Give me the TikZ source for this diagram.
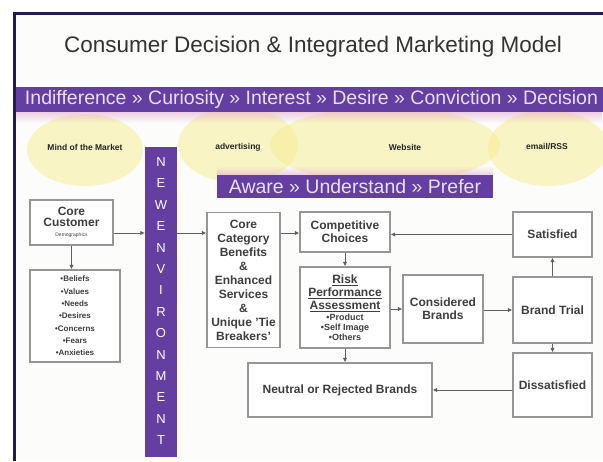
\documentclass[tikz,border=0pt]{standalone}
\usepackage{fontspec}
\setmainfont{Liberation Sans}
\usetikzlibrary{arrows.meta,fadings}

\definecolor{bandpurple}{RGB}{100,62,160}
\definecolor{bandtext}{RGB}{232,224,248}
\definecolor{bandpink}{RGB}{225,170,205}
\definecolor{framenavy}{RGB}{35,28,80}
\definecolor{boxgray}{RGB}{150,150,150}
\definecolor{txtgray}{RGB}{62,62,62}
\definecolor{linegray}{RGB}{95,95,95}
\definecolor{cloud}{RGB}{248,238,150}
\definecolor{paper}{RGB}{252,252,250}

\newcommand\riskitem[1]{{\fontsize{9}{10.5}\selectfont #1}}

\begin{document}
\begin{tikzpicture}[x=1pt,y=-1pt,
  stage/.style={draw=boxgray,line width=1.4pt,fill=white,text=txtgray,
    font=\bfseries\fontsize{12}{13}\selectfont,align=center,inner sep=1pt},
  link/.style={draw=linegray,line width=0.8pt,-{Latex[length=4.5pt,width=4.5pt]}},
  channel/.style={fill=cloud,fill opacity=0.55},
  chanlabel/.style={font=\bfseries\fontsize{8.5}{9}\selectfont,text=black!85},
  purpleband/.style={fill=bandpurple,text=bandtext,inner sep=0pt,
    font=\fontsize{19.5}{20}\selectfont},
  letter/.style={text=white,font=\fontsize{13}{13}\selectfont}]

\useasboundingbox (0,0) rectangle (603,461);
\fill[paper] (14,13.5) rectangle (603,461);

\coordinate (entry) at (0,233);

\node[font=\fontsize{22.5}{24}\selectfont,text=black!80] (title) at (313,47)
  {Consumer Decision \& Integrated Marketing Model};

% media channels
\fill[channel] (85,150) ellipse [x radius=58,y radius=36];
\fill[channel] (238,145) ellipse [x radius=60,y radius=38];
\fill[channel] (385,145) ellipse [x radius=115,y radius=38];
\fill[channel] (548,148) ellipse [x radius=60,y radius=38];
\node[chanlabel] (mind) at (85,147) {Mind of the Market};
\node[chanlabel] (adv) at (238,147) {advertising};
\node[chanlabel] (web) at (405,147) {Website};
\node[chanlabel] (mail) at (547,147) {email/RSS};

\fill[bandpink,path fading=south,opacity=0.6] (14,111) rectangle (603,123);
\fill[bandpink,path fading=north,opacity=0.6] (217,166) rectangle (493,176);

\node[purpleband,minimum width=595,minimum height=25] (stages) at (311.5,99.5)
  {Indifference » Curiosity » Interest » Desire » Conviction » Decision};
\node[purpleband,minimum width=276,minimum height=23] (aware) at (355,186.5)
  {Aware » Understand » Prefer};

\node[fill=bandpurple,minimum width=32,minimum height=310,inner sep=0pt] (newenv) at (161,301.5) {};
\foreach \l [count=\i from 0] in {N,E,W,E,N,V,I,R,O,N,M,E,N,T}
  \node[letter] (env\i) at (161,{162+\i*21.4}) {\l};

\node[stage,minimum width=83,minimum height=45] (core) at (71.5,222.5)
  {Core\\[-2pt]Customer\\[-3pt]{\mdseries\fontsize{5}{6}\selectfont Demographics}};
\node[stage,minimum width=90,minimum height=92,font=\bfseries\fontsize{8}{12.3}\selectfont] (traits) at (75,316)
  {•Beliefs\\•Values\\•Needs\\•Desires\\•Concerns\\•Fears\\•Anxieties};
\node[stage,minimum width=73,minimum height=135,font=\bfseries\fontsize{12}{14}\selectfont] (category) at (243.5,280)
  {Core\\Category\\Benefits\\\&\\Enhanced\\Services\\\&\\Unique 'Tie\\Breakers'};
\node[stage,minimum width=90,minimum height=40] (choices) at (345,232) {Competitive\\Choices};
\node[stage,minimum width=90,minimum height=81] (risk) at (345,307.5)
  {\underline{Risk}\\\underline{Performance}\\\underline{Assessment}\\[-2pt]\riskitem{•Product}\\[-3pt]\riskitem{•Self Image}\\[-3pt]\riskitem{•Others}};
\node[stage,minimum width=80,minimum height=68] (considered) at (443,309) {Considered\\Brands};
\node[stage,minimum width=79,minimum height=66] (trial) at (552.5,310) {Brand Trial};
\node[stage,minimum width=79,minimum height=45] (satisfied) at (552.5,234.5) {Satisfied};
\node[stage,minimum width=79,minimum height=64] (dissatisfied) at (552.5,385) {Dissatisfied};
\node[stage,minimum width=184,minimum height=54] (neutral) at (340,390) {Neutral or Rejected Brands};

\draw[link] (core.east |- entry) -- (newenv.west |- entry);
\draw[link] (newenv.east |- entry) -- (category.west |- entry);
\draw[link] (core.south) -- (core.south |- traits.north);
\draw[link] (category.east |- entry) -- (choices.west |- entry);
\draw[link] (satisfied.west) -- (choices.east |- satisfied.west);
\draw[link] (choices.south) -- (risk.north);
\draw[link] (risk.east |- considered) -- (considered.west);
\draw[link] (considered.east |- trial) -- (trial.west);
\draw[link] (trial.north) -- (satisfied.south);
\draw[link] (trial.south) -- (dissatisfied.north);
\draw[link] (dissatisfied.west |- neutral) -- (neutral.east);
\draw[link] (risk.south) -- (risk.south |- neutral.north);

\draw[framenavy,line width=3pt] (14,461) -- (14,13.5) -- (603,13.5);

\end{tikzpicture}
\end{document}
